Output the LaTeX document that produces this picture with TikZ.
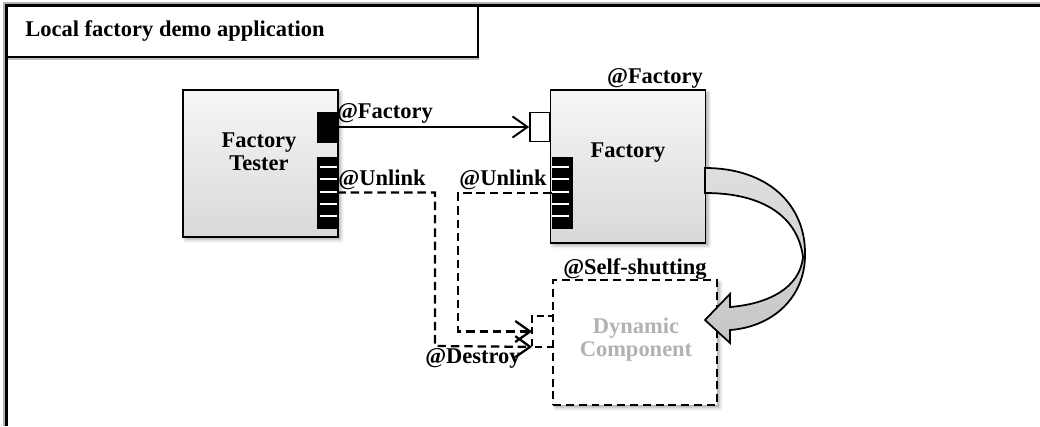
\documentclass[tikz,border=0pt]{standalone}
\usepackage{fontspec}
\setmainfont{Liberation Serif}
\usetikzlibrary{arrows.meta,shadows.blur}

\tikzset{
  lbl/.style={font=\fontsize{12.8}{14}\selectfont\bfseries, inner sep=0pt},
  comp/.style={draw, line width=1.1pt, top color=gray!7, bottom color=gray!30,
    minimum width=3.1cm, inner sep=0pt,
    blur shadow={shadow xshift=1.5pt, shadow yshift=-1.5pt, shadow blur steps=6, shadow opacity=35}},
  dyn/.style={draw, dash pattern=on 4.5pt off 2.8pt, line width=1.2pt, fill=white,
    minimum width=3.28cm, minimum height=2.5cm, inner sep=0pt,
    blur shadow={shadow xshift=1.5pt, shadow yshift=-1.5pt, shadow blur steps=6, shadow opacity=35}},
  portfull/.style={draw, fill=black, minimum width=0.4cm, inner sep=0pt},
  portopen/.style={draw, line width=1pt, fill=white, minimum width=0.4cm, minimum height=0.58cm, inner sep=0pt},
  link/.style={line width=1.1pt, -{Straight Barb[length=8.5pt,width=12pt]}},
  dlink/.style={link, line width=1.3pt, dash pattern=on 4.8pt off 2.8pt},
}

\begin{document}
\begin{tikzpicture}[x=0.02cm, y=-0.02cm]
  \useasboundingbox (0,0) rectangle (1040,426);

  % frame and title
  \draw[gray!60, line width=0.8pt] (4,426) -- (4,3) -- (1040,3);
  \draw[line width=1.4pt] (6.5,426) -- (6.5,5.5) -- (1040,5.5);
  \draw[gray!50, line width=1pt] (8,59) -- (479,59);
  \draw[line width=0.7pt] (6,5) rectangle (478,57);
  \node[lbl, anchor=west] (title) at (25,31) {Local factory demo application};

  % components
  \node[comp, minimum height=2.94cm] (tester) at (260.5,163.5) {};
  \node[lbl] (testertxt) at (259,154) {\begin{tabular}{@{}c@{}}Factory\\[-1pt]Tester\end{tabular}};
  \node[comp, minimum height=3.06cm] (factory) at (628,166.5) {};
  \node[lbl] (factorytxt) at (628,153) {Factory};
  \node[dyn] (dyncomp) at (635,342.5) {};
  \node[lbl, text=gray!60] (dyntxt) at (636,340) {\begin{tabular}{@{}c@{}}Dynamic\\[-1pt]Component\end{tabular}};

  % ports
  \node[portfull, minimum height=0.6cm] (tfac) at (327,127) {};
  \node[portfull, minimum height=1.42cm] (tunl) at (327,192.5) {};
  \foreach \s in {167,179,192,204,216}
    \draw[white, line width=0.8pt] (320,\s) -- (337,\s);
  \node[portopen] (fin) at (540,127) {};
  \node[portfull, minimum height=1.42cm] (funl) at (562,193) {};
  \foreach \s in {167,179,192,204,216}
    \draw[white, line width=0.8pt] (552,\s) -- (569,\s);
  \node[portopen, draw=none, fill=none] (dport) at (543,331.5) {};
  \draw[dash pattern=on 4pt off 2.5pt, line width=1.1pt] (dport.south east) -- (dport.south west) -- (dport.north west) -- (dport.north east);

  % links
  \draw[link] (tfac.east) -- (fin.west);
  \coordinate (turnA) at (458,331.5);
  \coordinate (turnB) at (435,346);
  \draw[dlink] (funl.west) -| (turnA) -- (dport.west);
  \draw[dlink] (tunl.east) -| (turnB) -- (dport.south west);

  % creation arrow
  \draw[line width=1pt, top color=gray!25, bottom color=gray!45]
    (705,168) .. controls (768,168) and (806,205) .. (805,255)
    .. controls (805,298) and (772,327) .. (730,330)
    -- (730,343) -- (705,320) -- (730,294) -- (730,307)
    .. controls (768,304) and (800,288) .. (803,257)
    .. controls (798,218) and (765,193) .. (705,193) -- cycle;

  % labels
  \node[lbl] (lblfac) at (385,113) {@Factory};
  \node[lbl] (lblunla) at (382,180) {@Unlink};
  \node[lbl] (lblunlb) at (503,180) {@Unlink};
  \node[lbl] (lbldestroy) at (473,358) {@Destroy};
  \node[lbl] (lblfactop) at (655,78) {@Factory};
  \node[lbl] (lblshut) at (635,269) {@Self-shutting};
\end{tikzpicture}
\end{document}
